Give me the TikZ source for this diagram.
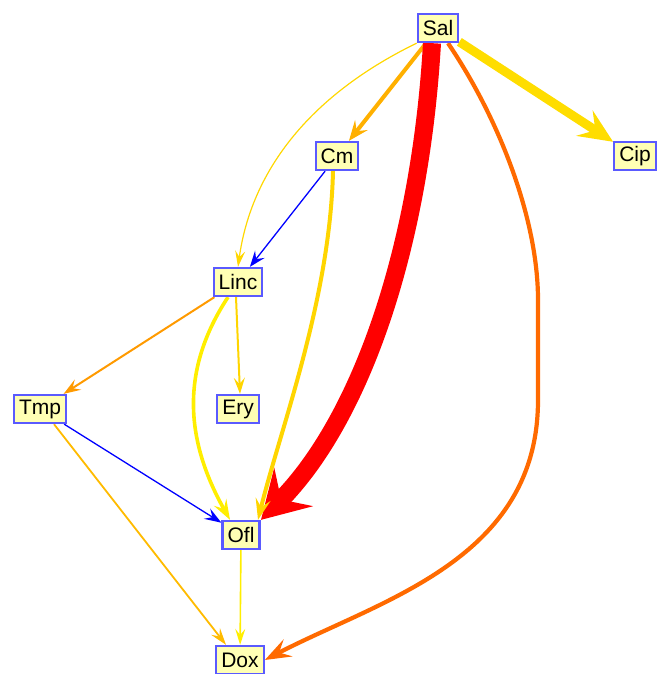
\documentclass[tikz,border=0pt]{standalone}
\usepackage{fontspec}
\setmainfont{Liberation Sans}
\usetikzlibrary{arrows.meta}
\pgfdeclarelayer{edges}
\pgfsetlayers{edges,main}

\definecolor{boxfill}{HTML}{FFFFB4}
\definecolor{boxline}{HTML}{5A5AFF}
\definecolor{cOrange}{HTML}{FFB000}
\definecolor{cGold}{HTML}{FFDD00}
\definecolor{cThinGold}{HTML}{FFD700}
\definecolor{cRed}{HTML}{FF0000}
\definecolor{cDeepOrange}{HTML}{FF6A00}
\definecolor{cCmOfl}{HTML}{FFD500}
\definecolor{cYellow}{HTML}{FFEE00}
\definecolor{cLincTmp}{HTML}{FF9A00}
\definecolor{cTmpDox}{HTML}{FFBB00}
\definecolor{cBlue}{HTML}{0000FF}

\tikzset{
  drug/.style={draw=boxline, line width=2.3pt, fill=boxfill,
    font=\fontsize{21}{25}\selectfont, inner xsep=5pt, inner ysep=2pt,
    minimum height=28pt},
  tipsz/.style 2 args={-{Stealth[length=#1pt, width=#2pt, inset=0.38*#1pt]}},
}

\begin{document}
\begin{tikzpicture}[x=1pt, y=-1pt]
\useasboundingbox (0,0) rectangle (658,674);

\node[drug] (Sal)  at (438,28)  {Sal};
\node[drug] (Cm)   at (337,156) {Cm};
\node[drug] (Cip)  at (635,156) {Cip};
\node[drug] (Linc) at (238,282) {Linc};
\node[drug] (Tmp)  at (40,409)  {Tmp};
\node[drug] (Ery)  at (238,409) {Ery};
\node[drug] (Ofl)  at (241,535) {Ofl};
\node[drug] (Dox)  at (240,660) {Dox};

\coordinate (dtop) at (538,300);
\coordinate (dbot) at (538,400);

\begin{pgfonlayer}{edges}
% from Sal
\draw[cThinGold, line width=1.2pt, tipsz={16}{10}]
  (Sal.south west) .. controls (300,100) and (250,180) .. (Linc.north);
\draw[cOrange, line width=4pt, tipsz={20}{16}] (Sal) -- (Cm);
\draw[cGold, line width=9pt, tipsz={34}{30}] (Sal) -- (Cip);
\draw[cDeepOrange, line width=4.2pt, tipsz={26}{19}]
  ([xshift=10pt]Sal.south) .. controls (500,120) and (538,220) .. (dtop)
  -- (dbot) .. controls (538,560) and (380,600) .. (Dox.east);
\draw[cRed, line width=18pt, tipsz={46}{54}]
  ([xshift=-6pt]Sal.south) .. controls (420,250) and (360,420) .. ([xshift=20pt]Ofl.north);
% from Cm
\draw[cBlue, line width=1.3pt, tipsz={16}{12}] (Cm) -- (Linc);
\draw[cCmOfl, line width=4pt, tipsz={21}{15}]
  ([xshift=-4pt]Cm.south) .. controls (330,300) and (280,430) .. ([xshift=17pt]Ofl.north);
% from Linc
\draw[cLincTmp, line width=2pt, tipsz={17}{12}] (Linc) -- (Tmp);
\draw[cCmOfl, line width=2pt, tipsz={16}{11}] ([xshift=-2pt]Linc.south) -- ([xshift=2pt]Ery.north);
\draw[cYellow, line width=3.6pt, tipsz={20}{14}]
  ([xshift=-10pt]Linc.south) .. controls (180,370) and (185,440) .. ([xshift=-11pt]Ofl.north);
% from Tmp
\draw[cBlue, line width=1.3pt, tipsz={17}{12}] (Tmp) -- (Ofl);
\draw[cTmpDox, line width=1.8pt, tipsz={17}{11}] ([xshift=14pt]Tmp.south) -- ([xshift=-14pt]Dox.north);
% from Ofl
\draw[cYellow, line width=1.6pt, tipsz={16}{10}] (Ofl) -- (Dox);
\end{pgfonlayer}
\end{tikzpicture}
\end{document}
